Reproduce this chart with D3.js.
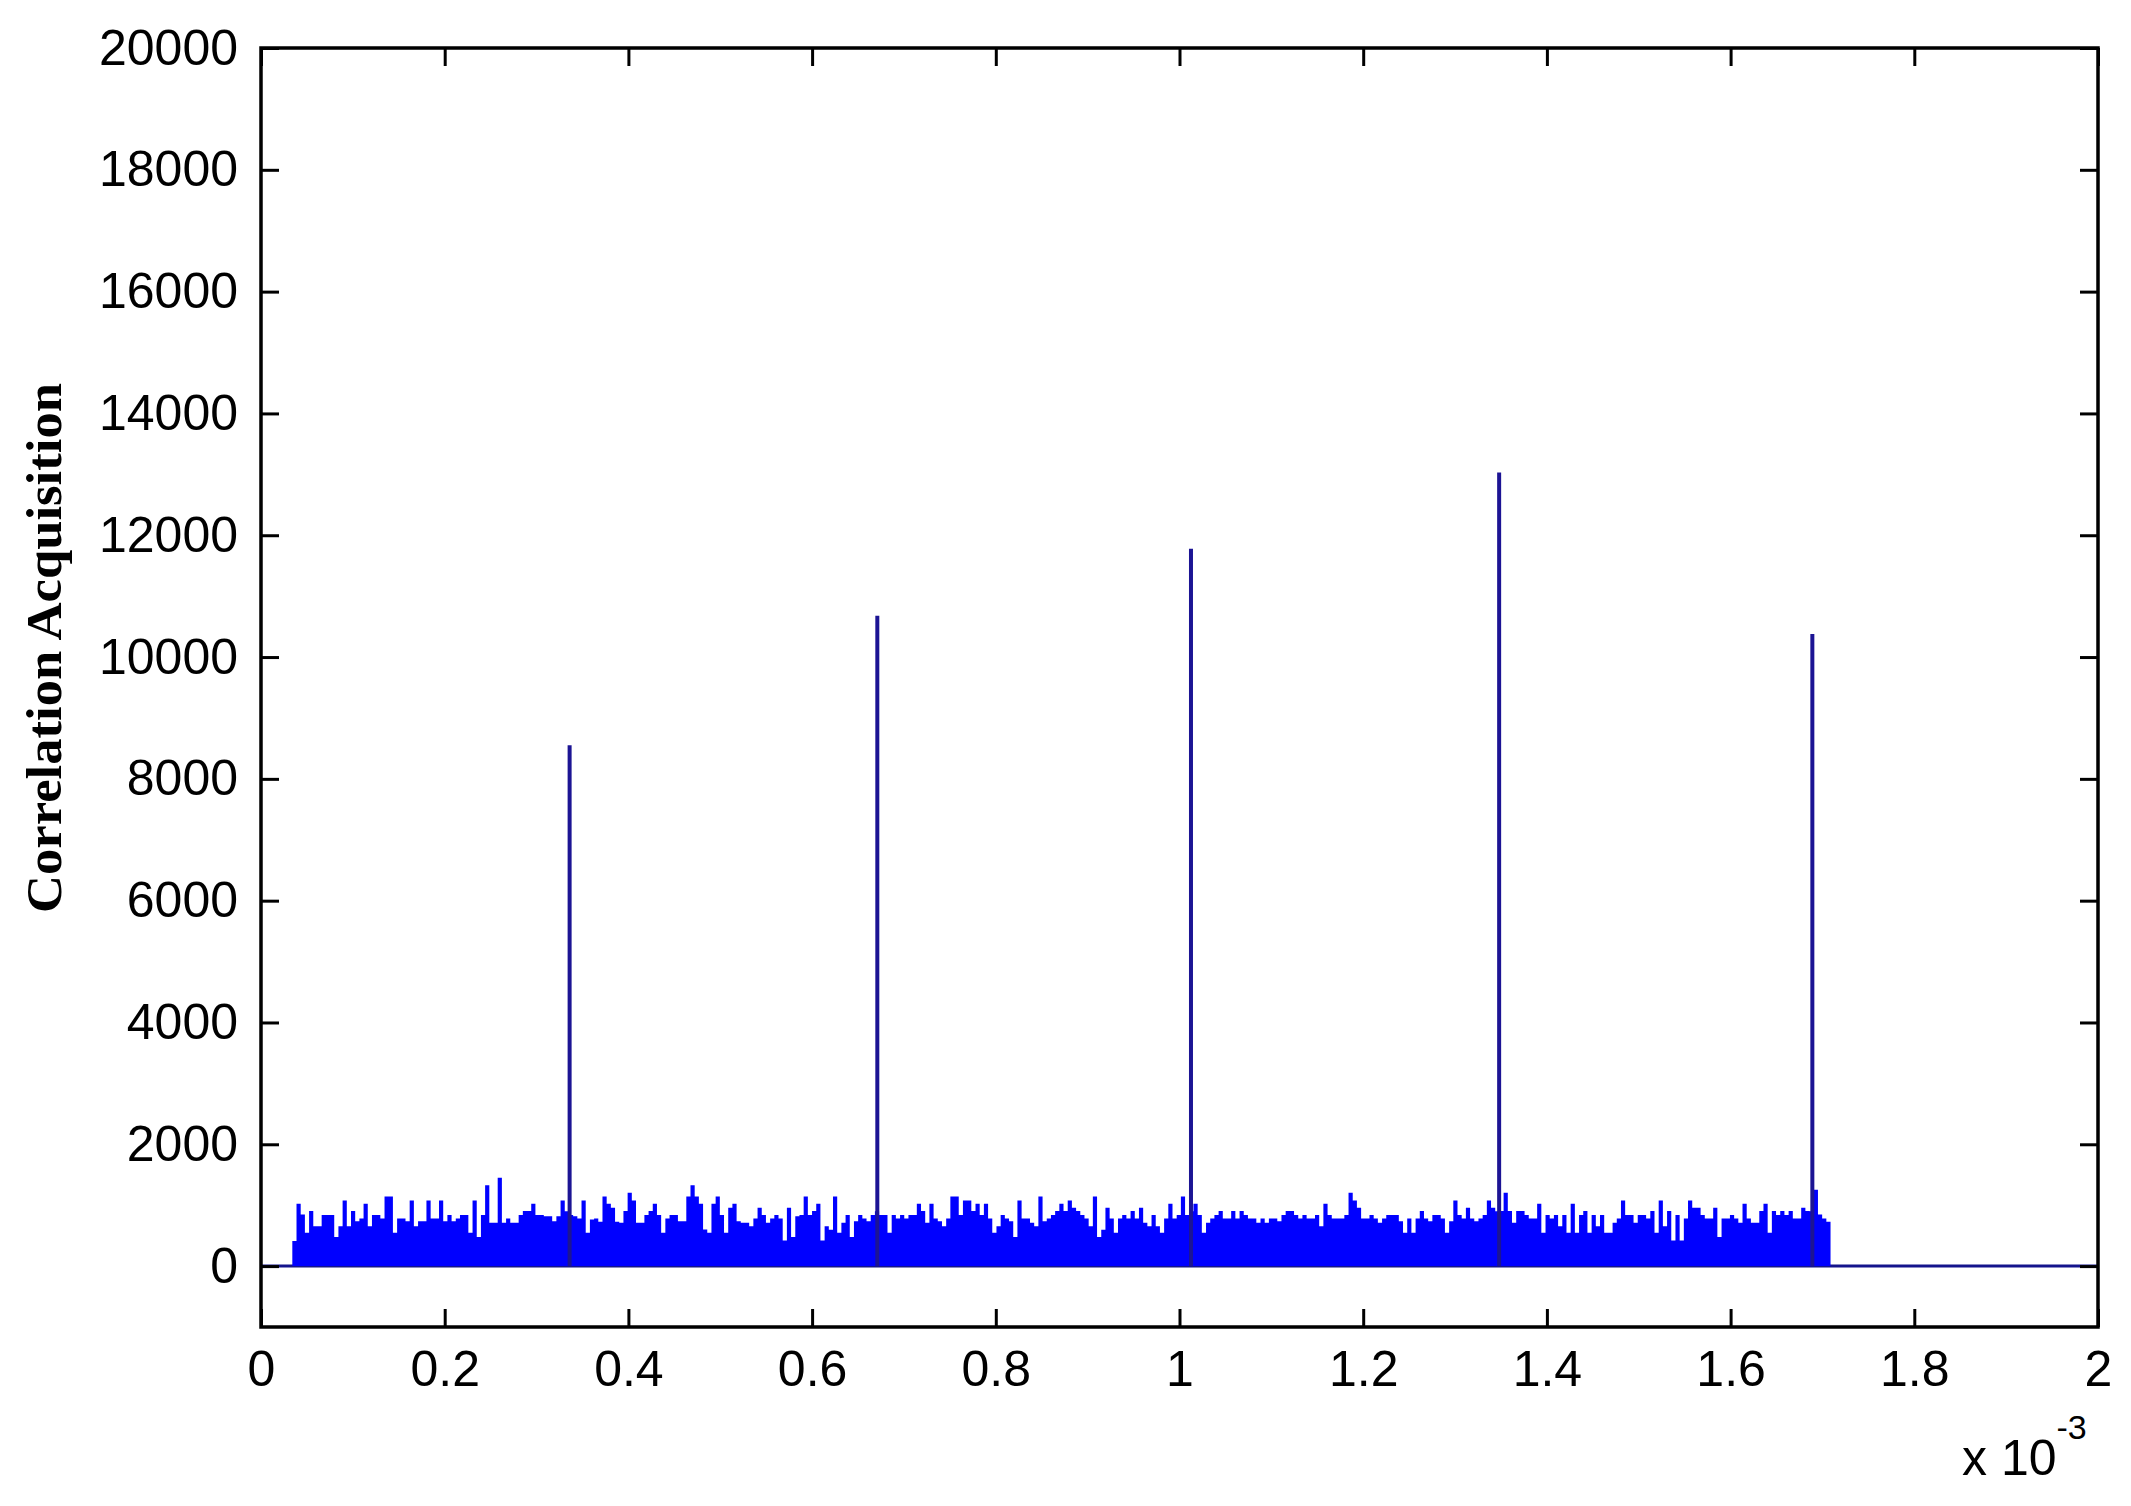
<!DOCTYPE html>
<html>
<head>
<meta charset="utf-8">
<script src="https://cdn.jsdelivr.net/npm/d3@7"></script>
<style>
  html, body { margin: 0; padding: 0; background: #ffffff; }
  svg { display: block; }
</style>
</head>
<body>
<svg id="chart" width="2131" height="1506"></svg>
<script>
// ---------- data (x in units of 10^-3 s) ----------
const xTicks = [0, 0.2, 0.4, 0.6, 0.8, 1, 1.2, 1.4, 1.6, 1.8, 2];
const xTickLabels = ["0", "0.2", "0.4", "0.6", "0.8", "1", "1.2", "1.4", "1.6", "1.8", "2"];
const yTicks = [0, 2000, 4000, 6000, 8000, 10000, 12000, 14000, 16000, 18000, 20000];
const yTickLabels = ["0", "2000", "4000", "6000", "8000", "10000", "12000", "14000", "16000", "18000", "20000"];

// correlation peaks
const peakX = [0.336, 0.671, 1.0125, 1.348, 1.689];
const peakY = [8550, 10680, 11780, 13030, 10380];

// noise floor span
const noiseStart = 0.0341;
const noiseEnd = 1.7088;

// noise floor samples, read left to right
const noiseSeg1 = [410,1023,848,547,903,656,656,837,837,837,476,656,1078,656,903,738,782,1023,656,837,
  837,782,1143,1143,547,782,782,738,1078,656,738,738,1078,782,782,1078,738,837,738,782,
  837,837,547,1078,476,837,1329,711,711,1450,711,782,711,711,837,903,903,1023,837,837];
const noiseSeg2 = [820,820,738,820,1078,900,837,820,782,1078,547,766,782,727,1143,1023,957,727,711,903,
  1203,1078,711,711,837,903,1023,837,547,782,837,837,738,738,1143,1329,1143,1023,602,547,
  1023,1143,837,547,957,1023,738,711,711,656,782,957,837,711,782,837,782,421,957,476,820,837];
const noiseSeg3 = [1143,837,903,1023,421,656,596,1143,547,711,837,476,738,837,782,738,837,900,837,837,
  547,837,782,837,782,837,837,1023,903,711,1023,782,738,656,782,1143,1143,837,1078,1078,
  903,1023,837,1023,782,547,656,837,782,738,476,1078,782,782,711,656,1143,738,782,837,903,1023];
const noiseSeg4 = [903,1078,957,903,837,782,656,1143,476,596,957,782,547,782,837,782,903,782,957,711,
  656,837,656,547,782,1023,782,837,1143,837,900,1023,837,547,711,782,837,903,782,782,
  903,782,903,837,782,782,711,782,711,782,782,738,837,903,903,837,782,837,782,782,837,656];
const noiseSeg5 = [1023,837,782,782,782,837,1203,1078,957,782,782,837,782,711,782,837,837,837,738,547,
  782,547,782,903,782,738,837,837,782,547,738,1078,837,782,957,782,738,782,837,1078,957,
  900,903,1203,903,711,903,903,837,782,782,1023,547,837,782,837,656,837,547,1023,547,837];
const noiseSeg6 = [903,547,837,656,837,547,547,711,782,1078,837,837,711,837,837,782,903,547,1078,656,
  903,421,837,421,782,1078,957,957,837,782,782,957,476,782,782,837,782,711,1023,782,
  711,711,903,1023,547,903,837,903,837,903,782,782,957,903,900,1253,848,782,727];

// ---------- layout ----------
const svg = d3.select("#chart");
const L = 261, R = 2098, T = 48, B = 1327;
const x = d3.scaleLinear().domain([0, 2]).range([L, R]);
const y = d3.scaleLinear().domain([-1000, 20000]).range([B, T]);

const noise = [].concat(noiseSeg1, noiseSeg2, noiseSeg3, noiseSeg4, noiseSeg5, noiseSeg6);
const dx = (noiseEnd - noiseStart) / noise.length;
const noisePts = noise.map((v, i) => ({ x: noiseStart + i * dx, v }));
noisePts.push({ x: noiseEnd, v: noise[noise.length - 1] });

const plot = svg.append("g");

// clip to axes box
svg.append("defs").append("clipPath").attr("id", "clip")
  .append("rect").attr("x", L).attr("y", T).attr("width", R - L).attr("height", B - T);
plot.attr("clip-path", "url(#clip)");

// zero line
plot.append("path")
  .datum([{ x: 0, v: 0 }, { x: 2, v: 0 }])
  .attr("d", d3.line().x(d => x(d.x)).y(d => y(d.v)))
  .attr("stroke", "#14148c").attr("stroke-width", 3).attr("fill", "none");

// noise floor
plot.append("path")
  .datum(noisePts)
  .attr("d", d3.area().curve(d3.curveStepAfter).x(d => x(d.x)).y0(y(0)).y1(d => y(d.v)))
  .attr("fill", "#0000ff").attr("stroke", "none");

// peaks
plot.selectAll("line.peak")
  .data(peakX.map((px, i) => ({ x: px, v: peakY[i] })))
  .join("line").attr("class", "peak")
  .attr("x1", d => x(d.x)).attr("x2", d => x(d.x))
  .attr("y1", y(0)).attr("y2", d => y(d.v))
  .attr("stroke", "#1c1494").attr("stroke-width", 4);

// ---------- axes ----------
const fontSans = "'Liberation Sans', Arial, Helvetica, sans-serif";
const tickLen = 18;

function styleAxis(g) {
  g.select(".domain").remove();
  g.selectAll(".tick line").attr("stroke", "#000").attr("stroke-width", 3);
  g.selectAll(".tick text").attr("fill", "#000").style("font-family", fontSans).style("font-size", "50px");
}

svg.append("g").attr("transform", `translate(0,${B})`)
  .call(d3.axisBottom(x).tickValues(xTicks).tickFormat((d, i) => xTickLabels[i])
    .tickSizeInner(-tickLen).tickSizeOuter(0).tickPadding(23))
  .call(styleAxis);

svg.append("g").attr("transform", `translate(0,${T})`)
  .call(d3.axisTop(x).tickValues(xTicks).tickFormat("")
    .tickSizeInner(-tickLen).tickSizeOuter(0))
  .call(styleAxis);

svg.append("g").attr("transform", `translate(${L},0)`)
  .call(d3.axisLeft(y).tickValues(yTicks).tickFormat((d, i) => yTickLabels[i])
    .tickSizeInner(-tickLen).tickSizeOuter(0).tickPadding(23))
  .call(styleAxis);

svg.append("g").attr("transform", `translate(${R},0)`)
  .call(d3.axisRight(y).tickValues(yTicks).tickFormat("")
    .tickSizeInner(-tickLen).tickSizeOuter(0))
  .call(styleAxis);

// box
svg.append("rect")
  .attr("x", L).attr("y", T).attr("width", R - L).attr("height", B - T)
  .attr("fill", "none").attr("stroke", "#000").attr("stroke-width", 3.5);

// exponent label
const ex = svg.append("text")
  .attr("x", 1962).attr("y", 1475)
  .style("font-family", fontSans).style("font-size", "50px").attr("fill", "#000");
ex.append("tspan").text("x 10");
ex.append("tspan").attr("dy", -36).style("font-size", "34px").text("-3");

// y label
svg.append("text")
  .attr("transform", "translate(61,648) rotate(-90)")
  .attr("text-anchor", "middle")
  .attr("textLength", 530).attr("lengthAdjust", "spacingAndGlyphs")
  .style("font-family", "'Liberation Serif', 'Times New Roman', serif")
  .style("font-weight", "bold").style("font-size", "50px").attr("fill", "#000")
  .text("Correlation Acquisition");
</script>
</body>
</html>
